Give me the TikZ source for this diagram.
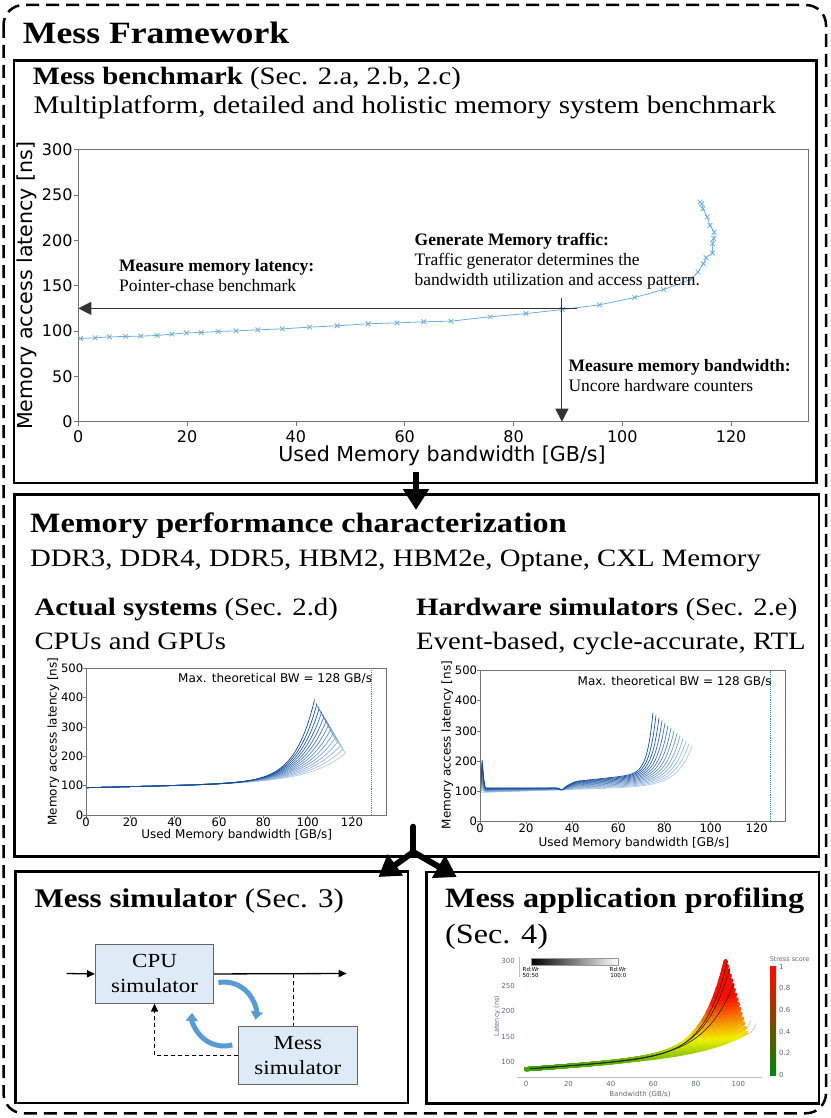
\documentclass[tikz,border=0pt]{standalone}
\usepackage{fontspec}
\setmainfont{Liberation Serif}[FakeStretch=1.15]
\newfontfamily\annfont{Liberation Serif}
\newfontfamily\plotfont{DejaVu Sans}
\usetikzlibrary{arrows.meta}
\newcommand\fsz[2]{\fontsize{#1}{#2}\selectfont}
\definecolor{bluedark}{RGB}{15,75,155}
\definecolor{bluelight}{RGB}{205,225,244}
\definecolor{markblue}{RGB}{110,175,222}
\definecolor{simfill}{RGB}{222,235,247}
\definecolor{simblue}{RGB}{91,155,213}
\definecolor{cgreen}{RGB}{0,135,0}
\definecolor{cyellow}{RGB}{240,240,0}
\definecolor{cred}{RGB}{255,10,0}
\definecolor{plotgray}{RGB}{95,105,130}
\definecolor{dotblue}{RGB}{60,140,205}
\begin{document}
\begin{tikzpicture}[x=1pt, y=-1pt,
    panel/.style={draw, line width=2.5pt, inner sep=0pt, anchor=north west},
    txt/.style={anchor=base west, inner sep=0pt},
    ann/.style={anchor=base west, inner sep=0pt, font=\annfont\fsz{17.5}{20}},
    axframe/.style={draw=black!55, line width=0.6pt},
    ticklab/.style={inner sep=0pt, font=\plotfont\fsz{16}{18}},
    smalltick/.style={inner sep=0pt, font=\plotfont\fsz{11.6}{13}},
    axlab/.style={inner sep=0pt, font=\plotfont\fsz{12}{14}},
    proftick/.style={inner sep=0pt, text=plotgray, font=\plotfont\fsz{7}{8}},
    fatarrow/.style={line width=6pt, -{Triangle[length=21pt,width=25pt]}},
    annarrow/.style={draw=black!80, line width=0.9pt, -{Triangle[length=13pt,width=13pt]}},
    simbox/.style={draw=black!60, fill=simfill, line width=0.8pt, align=center, inner sep=0pt,
        anchor=north west, minimum width=118.3pt, minimum height=58.5pt, font=\fsz{20}{25}},
    simarrow/.style={line width=1.3pt, -{Triangle[length=8pt,width=7pt]}},
    simdash/.style={line width=1.3pt, dash pattern=on 4pt off 3pt},
    cyclearrow/.style={draw=simblue, line width=5pt, -{Triangle[length=8pt,width=12pt]}},
    dotline/.style={draw=dotblue, line width=0.9pt, densely dotted}]
\useasboundingbox (0,0) rectangle (830,1118);

\draw [line width=2.5pt, dash pattern=on 13pt off 7pt, rounded corners=20pt] (3.5,5) rectangle (826,1113.3);
\node [txt, font=\bfseries\fsz{31}{36}] (title) at (22.7,43.3) {Mess Framework};

\node [panel, minimum width=802.3pt, minimum height=422.4pt] (bench) at (12.7,59.3) {};
\node [panel, minimum width=804.4pt, minimum height=361.7pt] (charac) at (13.3,493.3) {};
\node [panel, minimum width=392.7pt, minimum height=231.7pt] (simul) at (14,870) {};
\node [panel, minimum width=392.7pt, minimum height=231.3pt] (profil) at (425,870.7) {};

\coordinate (down1) at (416,471.7);
\coordinate (down2) at (416,510);
\draw [fatarrow] (down1) -- (down2);
\coordinate (fork0) at (413.3,826.7);
\coordinate (fork1) at (413.3,852);
\coordinate (forkl) at (378.3,877);
\coordinate (forkr) at (456.7,877);
\draw [line width=6pt, line cap=round] (fork0) -- (fork1);
\draw [fatarrow] (fork1) -- (forkl);
\draw [fatarrow] (fork1) -- (forkr);

\node [txt, font=\fsz{25}{30}] (benchttl) at (32.7,85) {\textbf{Mess benchmark} (Sec. 2.a, 2.b, 2.c)};
\node [txt, font=\fsz{25.3}{30}] (benchsub) at (33.3,113.3) {Multiplatform, detailed and holistic memory system benchmark};

\begin{scope}[shift={(78.3,421.7)}, x=5.44pt, y=0.9067pt]
    \draw [axframe] (0,0) rectangle (134.2,300);
    \foreach \v in {0,20,...,120} {
        \draw [axframe] (\v,0) -- ++(0pt,-4pt);
        \node [ticklab] (xta\v) at (\v,-16.5) {\v};
    }
    \foreach \v in {0,50,...,300} {
        \draw [axframe] (0,\v) -- ++(-4pt,0pt);
        \node [ticklab, anchor=east] (yta\v) at (-1.03,\v) {\v};
    }
    \draw [markblue, line width=0.8pt] plot [mark=x, mark size=3.3pt] coordinates {
        (0.4,91.8) (3.1,92.5) (5.7,93.6) (8.7,94) (11.5,94.4) (14.5,95.1) (17.2,96.6)
        (19.9,98) (22.6,98.4) (25.7,99.5) (29,100.2) (33,101.3) (37.5,102.4) (42.5,104.3)
        (47.6,105.8) (53.3,108) (58.6,109) (63.5,110.2) (68.5,110.9) (75.7,115.7)
        (82.3,119.3) (89,123.7) (95.8,128.9) (102.3,137) (107.6,145.8) (112.7,157.2)
        (113.9,165) (114.9,174.4) (115.4,181) (116.6,186) (116.6,196.5) (116.8,202)
        (116.9,209) (116.1,216.6) (115.6,225.8) (114.8,235) (114.6,240.5) (114.3,242.3)};
    \coordinate (lat0) at (91.6,125);
    \coordinate (lat1) at (0,125);
    \draw [annarrow] (lat0) -- (lat1);
    \coordinate (bw0) at (88.9,136.1);
    \coordinate (bw1) at (88.9,0);
    \draw [annarrow] (bw0) -- (bw1);
\end{scope}
\node [inner sep=0pt, rotate=90, font=\plotfont\fsz{20.6}{24}] (ylaba) at (27.3,285.8) {Memory access latency [ns]};
\node [inner sep=0pt, anchor=base, font=\plotfont\fsz{20.6}{24}] (xlaba) at (442,461.5) {Used Memory bandwidth [GB/s]};

\node [ann] (latttl) at (119,271.7) {\textbf{Measure memory latency:}};
\node [ann] (lattxt) at (119,291.7) {Pointer-chase benchmark};
\node [ann] (genttl) at (414.5,245) {\textbf{Generate Memory traffic:}};
\node [ann] (gentxt1) at (414.5,265) {Traffic generator determines the};
\node [ann] (gentxt2) at (414.5,285) {bandwidth utilization and access pattern.};
\node [ann] (bwttl) at (568.3,371) {\textbf{Measure memory bandwidth:}};
\node [ann] (bwtxt) at (568.3,391) {Uncore hardware counters};

\node [txt, font=\bfseries\fsz{28}{32}] (characttl) at (30,532.7) {Memory performance characterization};
\node [txt, font=\fsz{25}{30}] (characsub) at (30,566.7) {DDR3, DDR4, DDR5, HBM2, HBM2e, Optane, CXL Memory};
\node [txt, font=\fsz{25}{30}] (actttl) at (34.3,615.7) {\textbf{Actual systems} (Sec. 2.d)};
\node [txt, font=\fsz{25}{30}] (actsub) at (34.3,649.3) {CPUs and GPUs};
\node [txt, font=\fsz{25}{30}] (hwttl) at (416,615.7) {\textbf{Hardware simulators} (Sec. 2.e)};
\node [txt, font=\fsz{25}{30}] (hwsub) at (416,649.3) {Event-based, cycle-accurate, RTL};

\begin{scope}[shift={(86,815)}, x=2.217pt, y=0.2934pt]
    \foreach \i in {13,12,...,0} {
        \pgfmathsetmacro\ct{\i/13}
        \pgfmathsetmacro\cb{103+14*\ct}
        \pgfmathsetmacro\ctop{390-180*\ct}
        \pgfmathsetmacro\cw{9+7*\ct}
        \pgfmathsetmacro\ca{\ctop-93-0.18*\cb}
        \pgfmathsetmacro\pc{100-85*\ct}
        \draw [bluedark!\pc!bluelight, line width=0.7pt] plot [domain=0:\cb, samples=60, smooth]
            (\x, {93+0.18*\x+\ca*exp(max(-9,(\x-\cb)/\cw))})
            -- (\cb-1.5*\ct,\ctop+20*\ct) -- (\cb-5*\ct,\ctop+50*\ct);
    }
    \draw [axframe] (0,0) rectangle (135.3,500);
    \foreach \v in {0,20,...,120} {
        \draw [axframe] (\v,0) -- ++(0pt,-3pt);
        \node [smalltick] (xtb\v) at (\v,-23.9) {\v};
    }
    \foreach \v in {0,100,...,500} {
        \draw [axframe] (0,\v) -- ++(-3pt,0pt);
        \node [smalltick, anchor=east] (ytb\v) at (-1.2,\v) {\v};
    }
    \draw [dotline] (128.9,0) -- (128.9,500);
    \node [axlab, anchor=east] (maxb) at (129.1,464.5) {Max. theoretical BW = 128 GB/s};
\end{scope}
\node [axlab, rotate=90] (ylabb) at (53.3,741.5) {Memory access latency [ns]};
\node [axlab] (xlabb) at (236.7,835) {Used Memory bandwidth [GB/s]};

\begin{scope}[shift={(480,821)}, x=2.306pt, y=0.3006pt]
    \foreach \i in {13,12,...,0} {
        \pgfmathsetmacro\ct{\i/13}
        \pgfmathsetmacro\cb{75+17*\ct}
        \pgfmathsetmacro\ctop{360-110*\ct}
        \pgfmathsetmacro\cw{2.5+4*\ct}
        \pgfmathsetmacro\ca{\ctop-((1-\ct)*(135+0.8*(\cb-45))+\ct*(95+0.25*\cb))}
        \pgfmathsetmacro\pc{100-85*\ct}
        \draw [bluedark!\pc!bluelight, line width=0.7pt] plot [domain=0.3:\cb, samples=120]
            (\x, {(1-\ct)*(110+25/(1+exp(max(-9,min(9,(39-\x)/1.5))))+0.8*max(0,\x-45)
            -8*exp(-min(50,(\x-35.5)^2/2))+95*exp(-3.3*min(30,(\x-1)^2)))
            +\ct*(95+0.25*\x)+\ca*exp(max(-9,(\x-\cb)/\cw))});
    }
    \draw [axframe] (0,0) rectangle (132.6,500);
    \foreach \v in {0,20,...,120} {
        \draw [axframe] (\v,0) -- ++(0pt,-3pt);
        \node [smalltick] (xtc\v) at (\v,-24.3) {\v};
    }
    \foreach \v in {0,100,...,500} {
        \draw [axframe] (0,\v) -- ++(-3pt,0pt);
        \node [smalltick, anchor=east] (ytc\v) at (-1.2,\v) {\v};
    }
    \draw [dotline] (126.1,0) -- (126.1,500);
    \node [axlab, anchor=east] (maxc) at (126.5,463.4) {Max. theoretical BW = 128 GB/s};
\end{scope}
\node [axlab, rotate=90] (ylabc) at (447.3,745) {Memory access latency [ns]};
\node [axlab] (xlabc) at (634,843) {Used Memory bandwidth [GB/s]};

\node [txt, font=\fsz{27}{32}] (simttl) at (34.3,907.7) {\textbf{Mess simulator} (Sec. 3)};
\node [simbox] (cpu) at (95,944.3) {CPU\\simulator};
\node [simbox] (mess) at (238.3,1025.7) {Mess\\simulator};
\coordinate (simin) at (66.7,973.5);
\coordinate (simout) at (346.7,973.5);
\coordinate (simtap) at (293.3,973.5);
\draw [simarrow] (simin) -- (cpu.west);
\draw [simarrow] (cpu.east) -- (simout);
\draw [simdash] (simtap) -- (simtap |- mess.north);
\draw [simdash, -{Triangle[length=8pt,width=7pt]}] (mess.west) -| (cpu.south);
\coordinate (cyc1) at (218.4,982.5);
\coordinate (cyc2) at (232.3,1044.9);
\draw [cyclearrow] (cyc1) arc [start angle=100, end angle=-10, radius=32pt];
\draw [cyclearrow] (cyc2) arc [start angle=-75, end angle=-182, radius=32pt];

\node [txt, font=\bfseries\fsz{28}{32}] (profttl) at (445,907.7) {Mess application profiling};
\node [txt, font=\fsz{28}{32}] (profsec) at (445,943.3) {(Sec. 4)};

\begin{scope}[shift={(526,1112.05)}, x=2.123pt, y=0.5035pt]
    \draw [black!25, line width=0.6pt] (-4.4,69) -- (111.3,69);
    \foreach \v in {0,20,...,100}
        \node [proftick] (xtd\v) at (\v,55.1) {\v};
    \foreach \v in {100,150,...,300}
        \node [proftick, anchor=east] (ytd\v) at (-5.2,\v) {\v};
    \draw [black!25, line width=0.6pt] (100,152) .. controls (104,150) and (107,158) .. (108.5,176);
    \draw [black!25, line width=0.6pt] (99,160) .. controls (103,158) and (105,168) .. (106,182);
    \foreach \j in {15,14,...,0} {
        \pgfmathsetmacro\pb{94+0.65*\j}
        \pgfmathsetmacro\ptop{300-9.5*\j}
        \pgfmathsetmacro\pw{11+0.6*\j}
        \pgfmathsetmacro\pa{\ptop-85-0.3*\pb}
        \foreach \k in {0,...,29} {
            \pgfmathsetmacro\sxa{\pb*(1-(1-\k/30)^2)}
            \pgfmathsetmacro\sxb{\pb*(1-(1-(\k+1)/30)^2)}
            \pgfmathsetmacro\sya{85+0.3*\sxa+\pa*exp(max(-9,(\sxa-\pb)/\pw))}
            \pgfmathsetmacro\syb{85+0.3*\sxb+\pa*exp(max(-9,(\sxb-\pb)/\pw))}
            \pgfmathsetmacro\sscore{min(1,max(0,0.12+(\syb-85)/170))}
            \ifdim\sscore pt<0.5pt
                \pgfmathsetmacro\pc{200*\sscore}\def\scol{cyellow!\pc!cgreen}
            \else
                \pgfmathsetmacro\pc{200*\sscore-100}\def\scol{cred!\pc!cyellow}
            \fi
            \draw [color=\scol, line width=4pt, line cap=round] (\sxa,\sya) -- (\sxb,\syb);
        }
    }
    \foreach \j in {0,1,3} {
        \pgfmathsetmacro\pb{95+\j}
        \pgfmathsetmacro\ptop{300-15*\j}
        \pgfmathsetmacro\pw{11+0.9*\j}
        \pgfmathsetmacro\pa{\ptop-85-0.3*\pb}
        \draw [black!85, line width=0.6pt] plot [domain=2:\pb, samples=50, smooth]
            (\x, {85.5+0.3*\x+\pa*exp(max(-9,(\x-\pb)/\pw))});
    }
\end{scope}
\node [proftick, rotate=90, font=\plotfont\fsz{6.5}{8}] (ylabd) at (497,1016) {Latency (ns)};
\node [proftick] (xlabd) at (640,1094) {Bandwidth (GB/s)};
\draw [black!25, line width=0.6pt] (519,957) -- (519,977);
\shade [left color=black, right color=white, draw=black!40] (531,958.3) rectangle (617.7,965);
\node [inner sep=0pt, anchor=base west, font=\plotfont\fsz{5.5}{6}] (rdl1) at (522.5,971.5) {Rd:Wr};
\node [inner sep=0pt, anchor=base west, font=\plotfont\fsz{5.5}{6}] (rdl2) at (522.5,977.5) {50:50};
\node [inner sep=0pt, anchor=base east, font=\plotfont\fsz{5.5}{6}] (rdr1) at (626.5,971.5) {Rd:Wr};
\node [inner sep=0pt, anchor=base east, font=\plotfont\fsz{5.5}{6}] (rdr2) at (626.5,977.5) {100:0};
\shade [top color=cred, middle color=cyellow, bottom color=cgreen] (770,966.7) rectangle (776,1075);
\node [proftick, font=\plotfont\fsz{6.5}{8}] (stress) at (789.5,959) {Stress score};
\foreach \v/\p in {1/966.7, 0.8/988.3, 0.6/1010, 0.4/1031.7, 0.2/1053.3, 0/1075}
    \node [proftick, anchor=west] (cb\p) at (779,\p) {\v};
\end{tikzpicture}
\end{document}
